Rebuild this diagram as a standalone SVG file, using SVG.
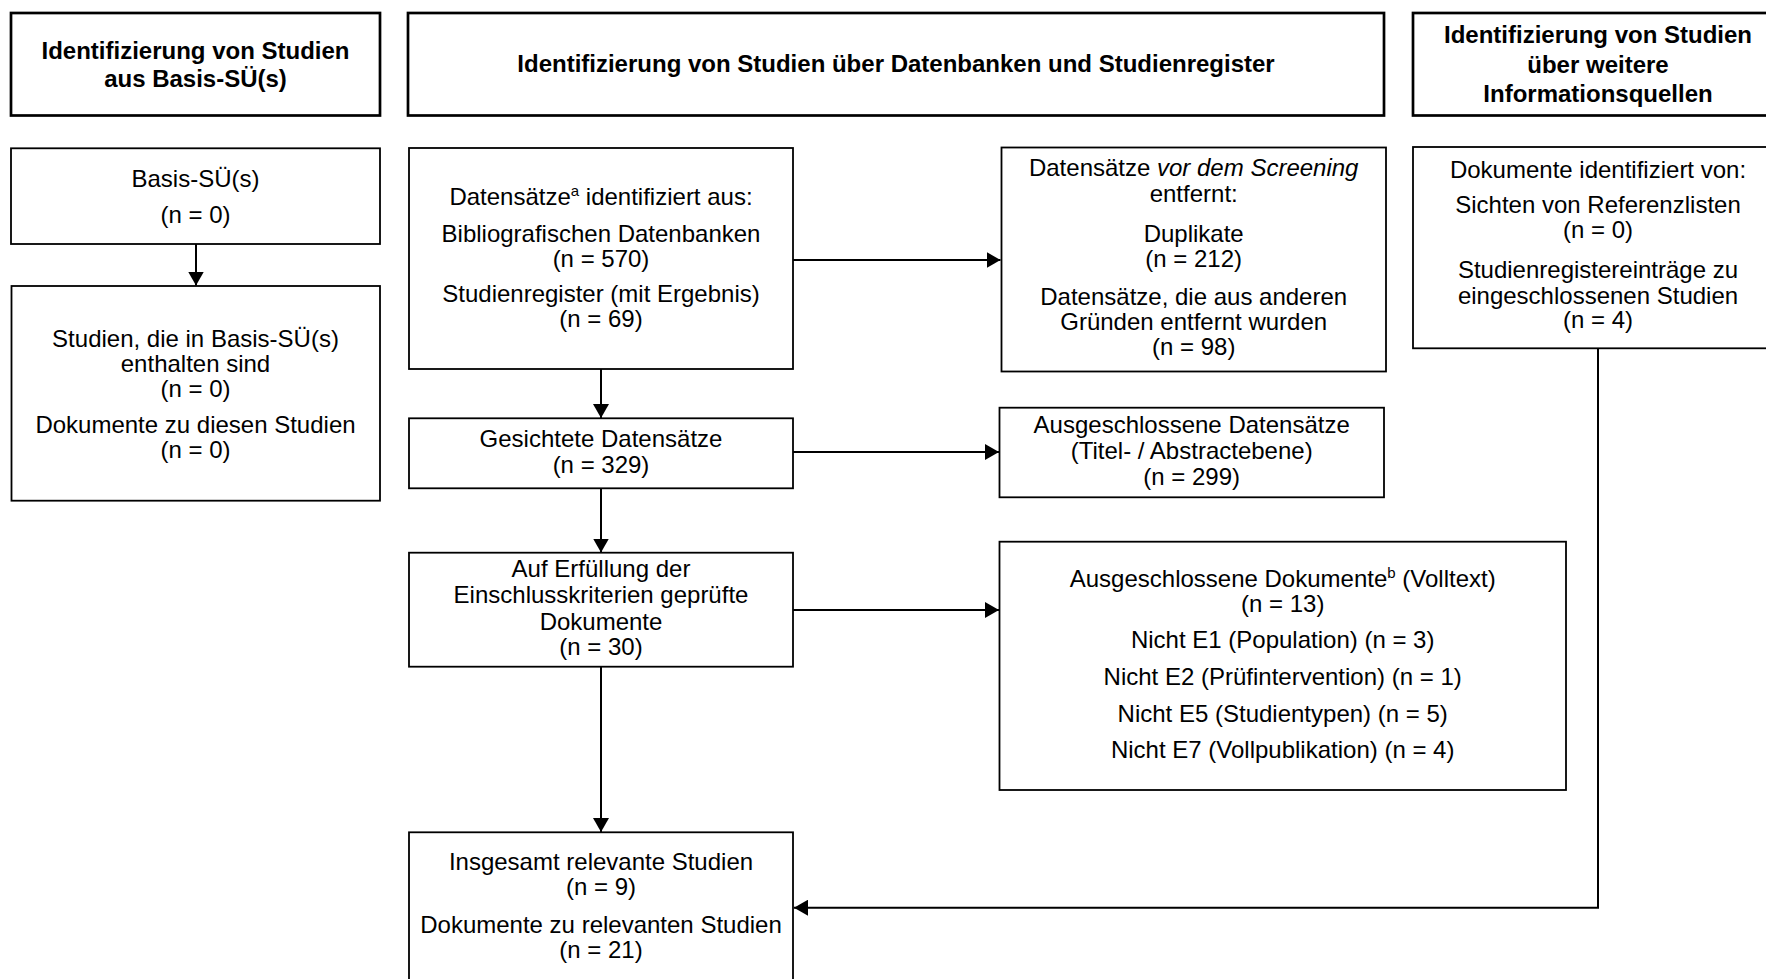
<svg xmlns="http://www.w3.org/2000/svg" width="1766" height="979" viewBox="0 0 1766 979">
<style>
  .hdr { fill: #fff; stroke: #000; stroke-width: 2.7; }
  .box { fill: #fff; stroke: #000; stroke-width: 1.8; }
  text { font-family: "Liberation Sans", Arial, sans-serif; font-size: 24px; fill: #000; text-anchor: middle; }
  .b { font-weight: bold; }
  .con { fill: none; stroke: #000; stroke-width: 2; marker-end: url(#ah); }
</style>
<defs>
  <marker id="ah" markerUnits="userSpaceOnUse" markerWidth="14" markerHeight="16" refX="14" refY="8" orient="auto" viewBox="0 0 14 16">
    <path d="M0,0 L14,8 L0,16 z" fill="#000"/>
  </marker>
</defs>
<rect width="1766" height="979" fill="#fff"/>

<g id="connectors">
  <line class="con" x1="196" y1="244" x2="196" y2="285.5"/>
  <line class="con" x1="793" y1="260" x2="1000.5" y2="260"/>
  <line class="con" x1="601" y1="369" x2="601" y2="418"/>
  <line class="con" x1="793" y1="452" x2="999" y2="452"/>
  <line class="con" x1="601" y1="488.3" x2="601" y2="552.5"/>
  <line class="con" x1="793" y1="610" x2="999" y2="610"/>
  <line class="con" x1="601" y1="666.7" x2="601" y2="832"/>
  <path class="con" d="M1598,348 V907.7 H794"/>
</g>

<g id="hdr-basis">
  <rect class="hdr" x="11" y="13" width="369" height="102.5"/>
  <text class="b" x="195.5" y="59.3">Identifizierung von Studien</text>
  <text class="b" x="195.5" y="87.3">aus Basis-SÜ(s)</text>
</g>
<g id="hdr-db">
  <rect class="hdr" x="408" y="13" width="976" height="102.5"/>
  <text class="b" x="896" y="71.7">Identifizierung von Studien über Datenbanken und Studienregister</text>
</g>
<g id="hdr-weitere">
  <rect class="hdr" x="1413" y="13" width="370" height="102.5"/>
  <text class="b" x="1598" y="43.3">Identifizierung von Studien</text>
  <text class="b" x="1598" y="72.7">über weitere</text>
  <text class="b" x="1598" y="101.7">Informationsquellen</text>
</g>

<g id="basis">
  <rect class="box" x="11" y="148.3" width="369" height="95.7"/>
  <text x="195.5" y="186.7">Basis-SÜ(s)</text>
  <text x="195.5" y="222.7">(n = 0)</text>
</g>
<g id="studien-basis">
  <rect class="box" x="11.5" y="286" width="368.5" height="214.7"/>
  <text x="195.5" y="346.7">Studien, die in Basis-SÜ(s)</text>
  <text x="195.5" y="372">enthalten sind</text>
  <text x="195.5" y="396.7">(n = 0)</text>
  <text x="195.5" y="433.3">Dokumente zu diesen Studien</text>
  <text x="195.5" y="458.3">(n = 0)</text>
</g>

<g id="datensaetze">
  <rect class="box" x="409" y="148" width="384" height="221"/>
  <text x="601" y="205">Datensätze<tspan font-size="15" dy="-9">a</tspan><tspan dy="9"> identifiziert aus:</tspan></text>
  <text x="601" y="241.7">Bibliografischen Datenbanken</text>
  <text x="601" y="266.7">(n = 570)</text>
  <text x="601" y="301.7">Studienregister (mit Ergebnis)</text>
  <text x="601" y="326.7">(n = 69)</text>
</g>

<g id="entfernt">
  <rect class="box" x="1001.5" y="147.5" width="384.5" height="224"/>
  <text x="1193.7" y="175.7">Datensätze <tspan font-style="italic">vor dem Screening</tspan></text>
  <text x="1193.7" y="201.5">entfernt:</text>
  <text x="1193.7" y="241.7">Duplikate</text>
  <text x="1193.7" y="266.7">(n = 212)</text>
  <text x="1193.7" y="305">Datensätze, die aus anderen</text>
  <text x="1193.7" y="330">Gründen entfernt wurden</text>
  <text x="1193.7" y="354.5">(n = 98)</text>
</g>

<g id="dokumente-weitere">
  <rect class="box" x="1413" y="147" width="370" height="201.3"/>
  <text x="1598" y="178.3">Dokumente identifiziert von:</text>
  <text x="1598" y="213.3">Sichten von Referenzlisten</text>
  <text x="1598" y="238.3">(n = 0)</text>
  <text x="1598" y="278.3">Studienregistereinträge zu</text>
  <text x="1598" y="304">eingeschlossenen Studien</text>
  <text x="1598" y="328.3">(n = 4)</text>
</g>

<g id="gesichtet">
  <rect class="box" x="409" y="418.3" width="384" height="70"/>
  <text x="601" y="446.7">Gesichtete Datensätze</text>
  <text x="601" y="472.5">(n = 329)</text>
</g>

<g id="ausgeschlossen-ds">
  <rect class="box" x="999.5" y="407.7" width="384.5" height="89.6"/>
  <text x="1191.7" y="433.3">Ausgeschlossene Datensätze</text>
  <text x="1191.7" y="459">(Titel- / Abstractebene)</text>
  <text x="1191.7" y="485">(n = 299)</text>
</g>

<g id="gepruefte">
  <rect class="box" x="409" y="552.7" width="384" height="114"/>
  <text x="601" y="576.7">Auf Erfüllung der</text>
  <text x="601" y="603.3">Einschlusskriterien geprüfte</text>
  <text x="601" y="630">Dokumente</text>
  <text x="601" y="655">(n = 30)</text>
</g>

<g id="ausgeschlossen-dok">
  <rect class="box" x="999.5" y="541.7" width="566.5" height="248.3"/>
  <text x="1282.7" y="586.7">Ausgeschlossene Dokumente<tspan font-size="15" dy="-9">b</tspan><tspan dy="9"> (Volltext)</tspan></text>
  <text x="1282.7" y="611.7">(n = 13)</text>
  <text x="1282.7" y="648.3">Nicht E1 (Population) (n = 3)</text>
  <text x="1282.7" y="685">Nicht E2 (Prüfintervention) (n = 1)</text>
  <text x="1282.7" y="721.7">Nicht E5 (Studientypen) (n = 5)</text>
  <text x="1282.7" y="758.3">Nicht E7 (Vollpublikation) (n = 4)</text>
</g>

<g id="relevant">
  <rect class="box" x="409" y="832.3" width="384" height="180"/>
  <text x="601" y="870">Insgesamt relevante Studien</text>
  <text x="601" y="895">(n = 9)</text>
  <text x="601" y="933.3">Dokumente zu relevanten Studien</text>
  <text x="601" y="958.3">(n = 21)</text>
</g>
</svg>
